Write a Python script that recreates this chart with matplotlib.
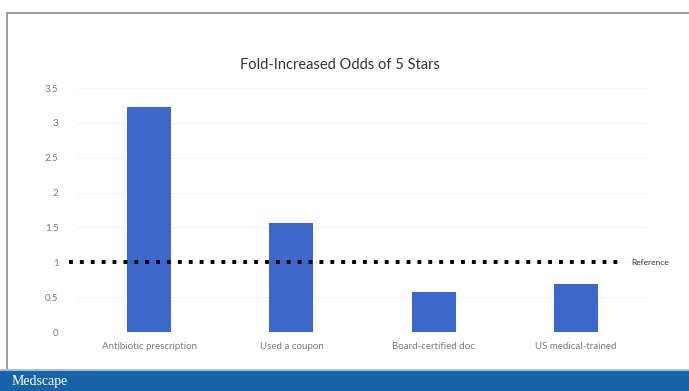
import matplotlib.pyplot as plt
from matplotlib.patches import Rectangle

plt.rcParams['font.family'] = ['Lato', 'DejaVu Sans']

categories = ['Antibiotic prescription', 'Used a coupon', 'Board-certified doc', 'US medical-trained']
odds = [3.23, 1.57, 0.57, 0.69]
reference = 1.0
yticks = [0, 0.5, 1, 1.5, 2, 2.5, 3, 3.5]
ytick_labels = ['0', '0.5', '1', '1.5', '2', '2.5', '3', '3.5']

W, H = 689, 391
fig = plt.figure(figsize=(W / 100, H / 100), dpi=100)
fig.patch.set_facecolor('white')

# slide frame and footer band
fig.patches.append(Rectangle((7 / W, 20 / H), 1.0, 358 / H, transform=fig.transFigure,
                             fill=False, edgecolor='#8c8c8c', linewidth=1.2))
fig.patches.append(Rectangle((0, 0), 1, 20 / H, transform=fig.transFigure,
                             facecolor='#1763a5', edgecolor='none'))
fig.patches.append(Rectangle((0, 20 / H), 1, 2 / H, transform=fig.transFigure,
                             facecolor='#9cc3e0', edgecolor='none'))
fig.text(12 / W, 10 / H, 'Medscape', color='white', fontsize=10, family='Liberation Serif',
         va='center', ha='left')

ax = fig.add_axes([78 / W, 59 / H, 569 / W, 244 / H])
x = list(range(len(categories)))
ax.bar(x, odds, width=0.31, color='#3b68c9', zorder=2)
ax.plot([-0.56, 3.32], [reference, reference], color='black', linestyle=(0, (1, 1.8)),
        linewidth=2.8, clip_on=False, zorder=3)
ax.text(3.39, reference, 'Reference', fontsize=6, color='#333333', va='center', ha='left')

ax.set_xlim(-0.5, 3.5)
ax.set_ylim(0, 3.5)
ax.set_yticks(yticks)
ax.set_yticklabels(ytick_labels)
ax.set_xticks(x)
ax.set_xticklabels(categories)
ax.tick_params(axis='both', length=0, labelsize=7, colors='#7a7a7a')
ax.tick_params(axis='y', pad=14)
ax.tick_params(axis='x', pad=7)
ax.grid(axis='y', color='#f2f2f2', linewidth=0.8, zorder=0)
for s in ax.spines.values():
    s.set_visible(False)

fig.text(340 / W, 326 / H, 'Fold-Increased Odds of 5 Stars', fontsize=10.5, color='#333333',
         ha='center', va='center')

fig.savefig('out.png', dpi=100)
